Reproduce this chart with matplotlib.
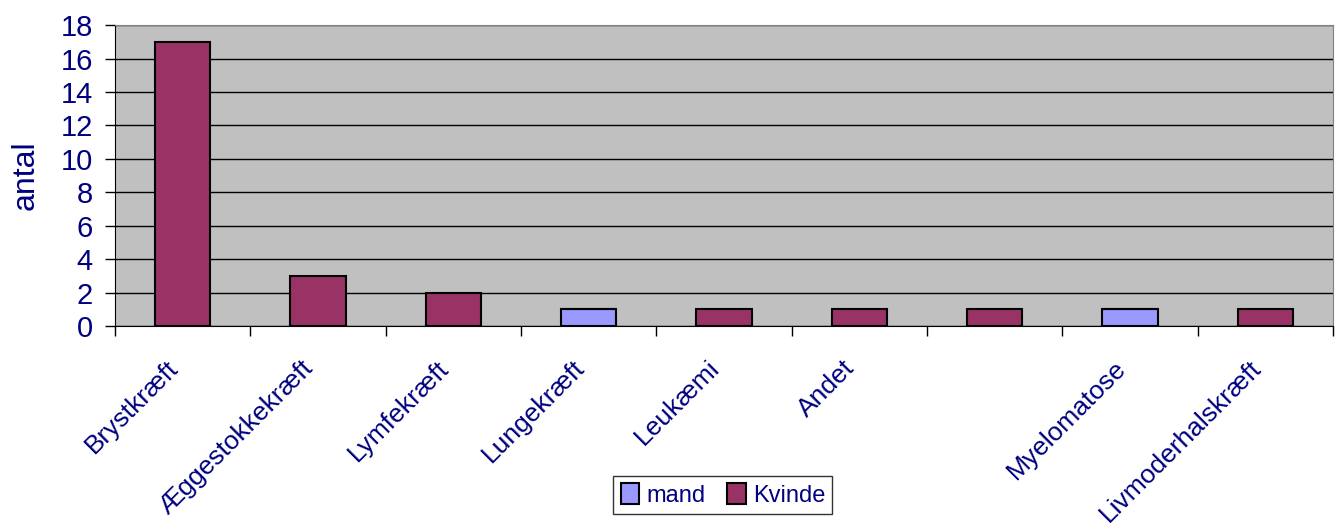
import numpy as np
import matplotlib
matplotlib.use('Agg')
import matplotlib.pyplot as plt

# data
categories = ['Brystkræft', 'Æggestokkekræft', 'Lymfekræft', 'Lungekræft', 'Leukæmi',
              'Andet', '', 'Myelomatose', 'Livmoderhalskræft']
mand = [0, 0, 0, 1, 0, 0, 0, 1, 0]
kvinde = [17, 3, 2, 0, 1, 1, 1, 0, 1]
yticks = [0, 2, 4, 6, 8, 10, 12, 14, 16, 18]

navy = '#000080'
plt.rcParams['font.family'] = ['Liberation Sans', 'DejaVu Sans']

fig = plt.figure(figsize=(13.4, 5.25), dpi=100)
ax = fig.add_axes([0.0858, 0.379, 0.909, 0.573])
ax.set_facecolor('#C0C0C0')

x = np.arange(len(categories))
ax.bar(x, mand, width=0.41, color='#9999FF', edgecolor='black', linewidth=1.5, label='mand', zorder=3)
ax.bar(x, kvinde, width=0.41, bottom=mand, color='#993366', edgecolor='black', linewidth=1.5,
       label='Kvinde', zorder=3)

ax.set_xlim(-0.5, len(categories) - 0.5)
ax.set_ylim(0, 18)
ax.set_yticks(yticks)
ax.set_yticklabels([str(v) for v in yticks], fontsize=21, color=navy)
ax.yaxis.grid(True, color='black', linewidth=1, zorder=1)
ax.set_axisbelow(True)
ax.tick_params(axis='y', length=7, width=1, color='black', pad=9)

# category boundaries as ticks, labels at centres
ax.set_xticks(np.arange(len(categories) + 1) - 0.5)
ax.set_xticklabels([])
ax.tick_params(axis='x', length=7, width=1, color='black')
for i, lab in enumerate(categories):
    ax.text(i - 0.06, -2.3, lab, rotation=45, rotation_mode='anchor', ha='right', va='center',
            fontsize=19, color=navy)

ax.set_ylabel('antal', fontsize=23, color=navy)
ax.yaxis.set_label_coords(-0.061, 0.5)

for s in ['top', 'right']:
    ax.spines[s].set_color('#808080')
for s in ['left', 'bottom']:
    ax.spines[s].set_color('black')

leg = fig.legend(loc='center', bbox_to_anchor=(0.5395, 0.057), ncol=2, fontsize=17,
                 frameon=True, fancybox=False, edgecolor='black', handlelength=0.8,
                 handleheight=1.0, handletextpad=0.3, columnspacing=0.9, borderpad=0.3)
for t in leg.get_texts():
    t.set_color(navy)

fig.savefig('out.png', dpi=100)
